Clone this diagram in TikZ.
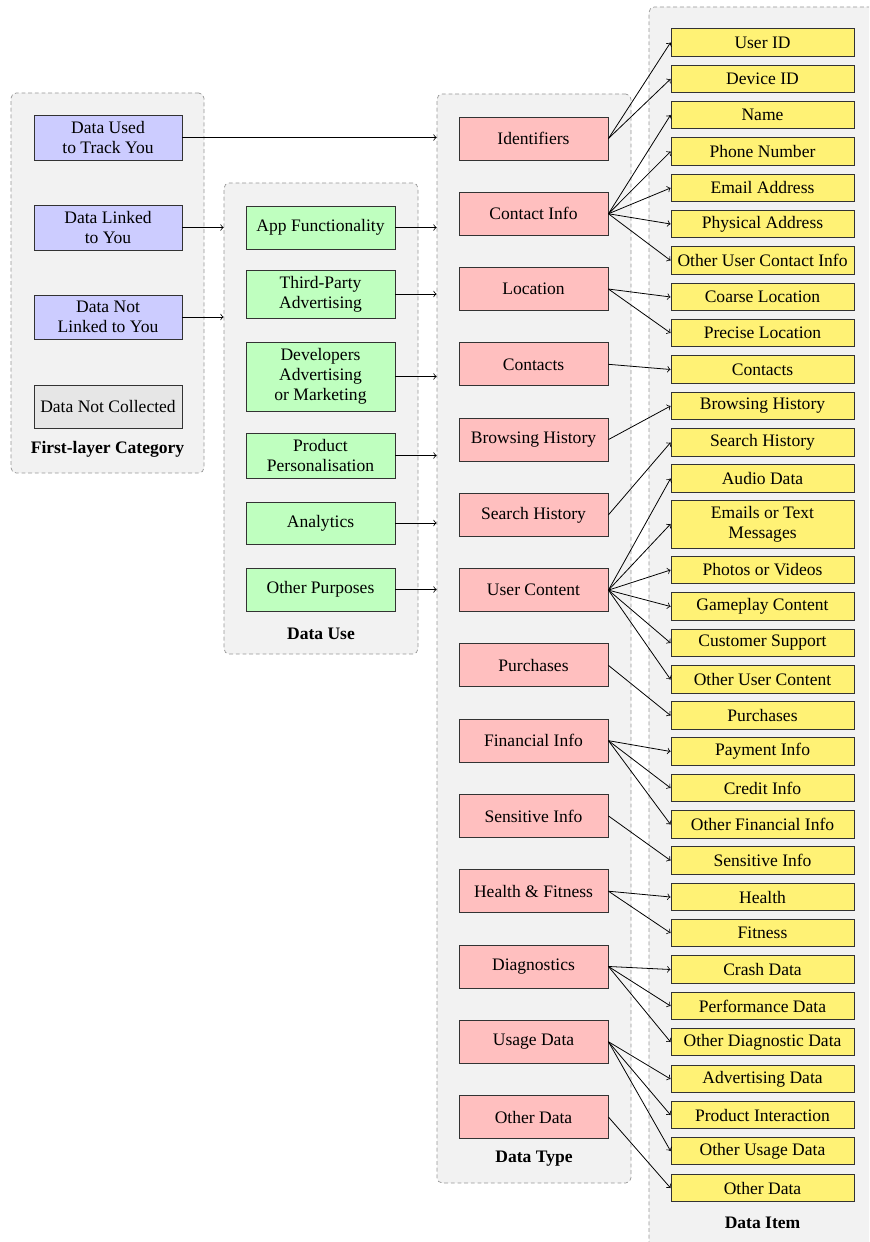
\documentclass[tikz,border=0pt]{standalone}
\usepackage{fontspec}
\setmainfont{Liberation Serif}
\newdimen\pxu
\pxu=0.57pt
\definecolor{cblue}{RGB}{204,204,255}
\definecolor{cgreen}{RGB}{191,255,191}
\definecolor{cred}{RGB}{255,191,191}
\definecolor{cyellow}{RGB}{255,242,117}
\definecolor{cgray}{RGB}{230,230,230}
\definecolor{cpanel}{RGB}{242,242,242}
\definecolor{cdash}{RGB}{150,150,150}
\tikzset{
  panel/.style={draw=cdash, fill=cpanel, dash pattern=on 2.2pt off 1.6pt, rounded corners=3pt, inner sep=0pt},
  box/.style={draw=black!80, line width=0.5pt, inner sep=1pt, align=center, font=\fontsize{10}{11.5}\selectfont},
  bluebox/.style={box, fill=cblue, minimum width=148\pxu},
  graybox/.style={box, fill=cgray, minimum width=148\pxu},
  greenbox/.style={box, fill=cgreen, minimum width=149\pxu},
  redbox/.style={box, fill=cred, minimum width=149\pxu, minimum height=43\pxu},
  yelbox/.style={box, fill=cyellow, minimum width=183\pxu, minimum height=27.5\pxu},
  paneltitle/.style={font=\fontsize{10}{12}\selectfont\bfseries, inner sep=0pt},
  arr/.style={->, line width=0.45pt},
}
\begin{document}
\begin{tikzpicture}[x=\pxu, y=-\pxu]
\useasboundingbox (0,0) rectangle (869,1242);
\clip (0,0) rectangle (869,1242);
% panels
\node[panel, minimum width=193\pxu, minimum height=380\pxu] (pfirst) at (107.5,283) {};
\node[panel, minimum width=194\pxu, minimum height=471\pxu] (puse) at (321,418.5) {};
\node[panel, minimum width=194\pxu, minimum height=1089\pxu] (ptype) at (534,638.5) {};
\node[panel, minimum width=240\pxu, minimum height=1260\pxu] (pitem) at (769,637) {};
% titles
\node[paneltitle] (tfirst) at (107.5,449) {First-layer Category};
\node[paneltitle] (tuse) at (321,634) {Data Use};
\node[paneltitle] (ttype) at (534,1159) {Data Type};
\node[paneltitle] (titem) at (762.5,1223) {Data Item};
% first layer
\node[bluebox, minimum height=45\pxu] (used) at (108,137.5) {Data Used\\to Track You};
\node[bluebox, minimum height=45\pxu] (linked) at (108,227.5) {Data Linked\\to You};
\node[bluebox, minimum height=44\pxu] (notlinked) at (108,317) {Data Not\\Linked to You};
\node[graybox, minimum height=43\pxu] (notcoll) at (108,406.5) {Data Not Collected};
% data use
\node[greenbox, minimum height=43\pxu] (u1) at (320.5,227.5) {App Functionality};
\node[greenbox, minimum height=48\pxu] (u2) at (320.5,294) {Third-Party\\Advertising};
\node[greenbox, minimum height=69\pxu] (u3) at (320.5,376.5) {Developers\\Advertising\\or Marketing};
\node[greenbox, minimum height=45\pxu] (u4) at (320.5,455.5) {Product\\Personalisation};
\node[greenbox, minimum height=42\pxu] (u5) at (320.5,523) {Analytics};
\node[greenbox, minimum height=43\pxu] (u6) at (320.5,589.5) {Other Purposes};
% data types
\foreach \n/\t [count=\i from 0] in {t1/Identifiers, t2/Contact Info, t3/Location, t4/Contacts, t5/Browsing History, t6/Search History, t7/User Content, t8/Purchases, t9/Financial Info, t10/Sensitive Info, t11/Health \& Fitness, t12/Diagnostics, t13/Usage Data, t14/Other Data}
  \node[redbox] (\n) at (533.5,138.5+75.27*\i) {\t};
% data items
\foreach \n/\y/\t in {i1/42.5/User ID, i2/79/Device ID, i3/115/Name, i4/151.5/Phone Number, i5/188/Email Address, i6/224/Physical Address, i7/260.5/Other User Contact Info, i8/297/Coarse Location, i9/333/Precise Location, i10/369.5/Contacts, i11/406/Browsing History, i12/442.5/Search History, i13/478.5/Audio Data, i15/570/Photos or Videos, i16/606.5/Gameplay Content, i17/643/Customer Support, i18/679.5/Other User Content, i19/715.5/Purchases, i20/751.5/Payment Info, i21/788/Credit Info, i22/824.5/Other Financial Info, i23/860.5/Sensitive Info, i24/897/Health, i25/933/Fitness, i26/969.5/Crash Data, i27/1006/Performance Data, i28/1042/Other Diagnostic Data, i29/1079/Advertising Data, i30/1115/Product Interaction, i31/1151/Other Usage Data, i32/1188/Other Data}
  \node[yelbox] (\n) at (762.5,\y) {\t};
\node[yelbox, minimum height=48\pxu] (i14) at (762.5,524) {Emails or Text\\Messages};
% arrows: first layer
\draw[arr] (used.east) -- (used.east -| ptype.west);
\draw[arr] (linked.east) -- (linked.east -| puse.west);
\draw[arr] (notlinked.east) -- (notlinked.east -| puse.west);
% arrows: data use
\foreach \n in {u1,u2,u3,u4,u5,u6}
  \draw[arr] (\n.east) -- (\n.east -| ptype.west);
% arrows: types to items
\foreach \a/\b in {t1/i1, t1/i2, t2/i3, t2/i4, t2/i5, t2/i6, t2/i7, t3/i8, t3/i9, t4/i10, t5/i11, t6/i12, t7/i13, t7/i14, t7/i15, t7/i16, t7/i17, t7/i18, t8/i19, t9/i20, t9/i21, t9/i22, t10/i23, t11/i24, t11/i25, t12/i26, t12/i27, t12/i28, t13/i29, t13/i30, t13/i31, t14/i32}
  \draw[arr] (\a.east) -- (\b.west);
\end{tikzpicture}
\end{document}
